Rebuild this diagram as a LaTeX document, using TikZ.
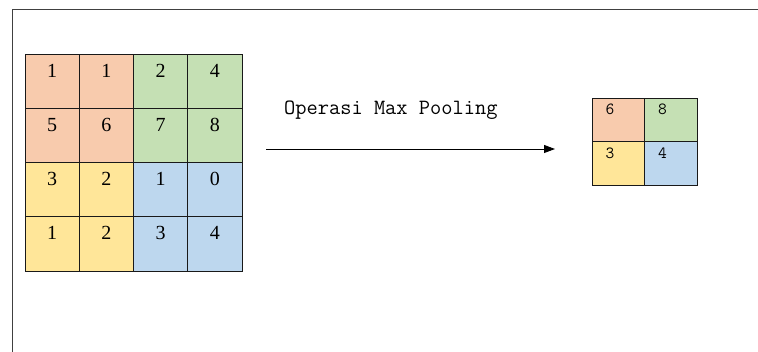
\documentclass[tikz,border=0pt]{standalone}
\usepackage{fontspec}
\setmainfont{Liberation Serif}
\usepackage{xcolor}
\definecolor{orangecell}{RGB}{248, 203, 173}
\definecolor{greencell}{RGB}{197, 224, 180}
\definecolor{yellowcell}{RGB}{255, 230, 153}
\definecolor{bluecell}{RGB}{189, 215, 238}
\usepackage{tikz}
\usetikzlibrary{arrows.meta, matrix}

\tikzset{
  oc/.style={fill=orangecell},
  gc/.style={fill=greencell},
  yc/.style={fill=yellowcell},
  bc/.style={fill=bluecell},
}

\begin{document}
\begin{tikzpicture}[x=1pt,y=-1pt]
  \useasboundingbox (0,0) rectangle (758,352);
  \draw[line width=1pt,black!75] (12,352) -- (12,10) -- (758,10);
  % input 4x4
  \matrix (input) at (133.5,162.5) [
      matrix of nodes,row sep=-0.9pt,column sep=-0.9pt,
      nodes={draw=black!90,line width=0.9pt,minimum width=54.25pt,
        minimum height=54.25pt,inner sep=0pt,text height=14pt,
        text depth=22pt,anchor=center,font=\fontsize{20}{24}\selectfont}
  ] {
    |[oc]| 1 & |[oc]| 1 & |[gc]| 2 & |[gc]| 4 \\
    |[oc]| 5 & |[oc]| 6 & |[gc]| 7 & |[gc]| 8 \\
    |[yc]| 3 & |[yc]| 2 & |[bc]| 1 & |[bc]| 0 \\
    |[yc]| 1 & |[yc]| 2 & |[bc]| 3 & |[bc]| 4 \\};
  % output 2x2
  \matrix (output) at (644.5,141.5) [
      matrix of nodes,row sep=-0.9pt,column sep=-0.9pt,
      nodes={draw=black!90,line width=0.9pt,minimum height=43.5pt,
        text width=25.5pt,align=left,inner xsep=13.5pt,inner ysep=0pt,
        text height=10pt,text depth=19.5pt,anchor=center,
        font=\ttfamily\fontsize{17}{20}\selectfont}
  ] {
    |[oc]| 6 & |[gc]| 8 \\
    |[yc]| 3 & |[bc]| 4 \\};
  \coordinate (poolstart) at (266,149);
  \coordinate (poolend) at (555,149);
  \draw[line width=0.9pt,-{Triangle[length=11pt,width=8pt]}]
    (poolstart) -- (poolend);
  \node[anchor=base west,inner sep=0pt,
    font=\ttfamily\fontsize{21.8}{25}\selectfont] (poollabel)
    at (284,115) {Operasi Max Pooling};
\end{tikzpicture}
\end{document}
